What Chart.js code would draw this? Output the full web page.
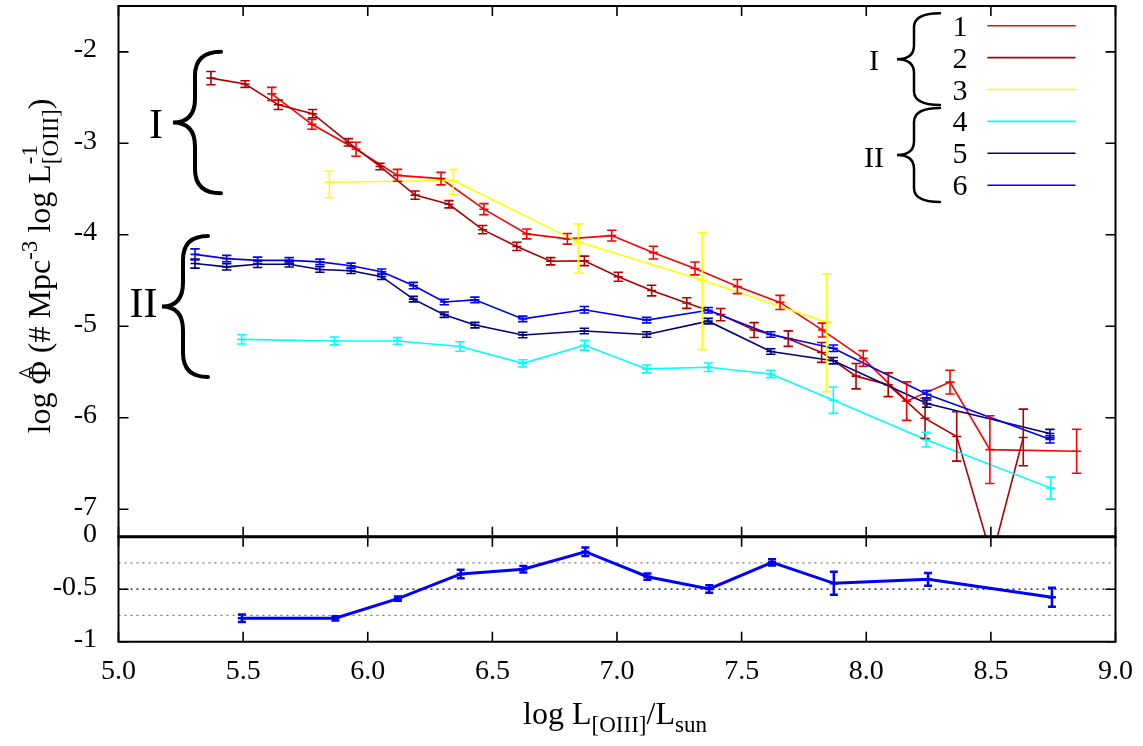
<!DOCTYPE html>
<html>
<head>
<meta charset="utf-8">
<script src="https://cdn.jsdelivr.net/npm/chart.js@4.4.0/dist/chart.umd.min.js"></script>
<style>
html,body{margin:0;padding:0;background:#fff;}
#wrap{position:relative;width:1143px;height:746px;}
#wrap canvas{position:absolute;left:0;top:0;}
</style>
</head>
<body>
<div id="wrap">
  <canvas id="ch-main" width="1143" height="746"></canvas>
  <canvas id="ch-ratio" width="1143" height="746"></canvas>
</div>
<script>
// ── data ─────────────────────────────────────────────────
// 1 (red)
const s1x=[5.615,5.776,5.953,6.119,6.294,6.466,6.638,6.801,6.979,7.146,7.313,7.483,7.654,7.824,7.988,8.162,8.336,8.496,8.844];
const s1y=[-2.460,-2.792,-3.065,-3.350,-3.386,-3.720,-3.990,-4.044,-4.009,-4.195,-4.368,-4.566,-4.739,-5.041,-5.351,-5.818,-5.610,-6.348,-6.366];
const s1e=[0.072,0.054,0.077,0.065,0.068,0.061,0.054,0.058,0.058,0.07,0.07,0.077,0.077,0.076,0.085,0.21,0.13,0.37,0.24];
// 2 (dark red)
const s2x=[5.371,5.508,5.641,5.779,5.922,6.049,6.190,6.326,6.461,6.598,6.734,6.869,7.005,7.139,7.280,7.416,7.550,7.687,7.821,7.959,8.088,8.236,8.363,8.504,8.630];
const s2y=[-2.287,-2.352,-2.579,-2.676,-2.989,-3.253,-3.566,-3.666,-3.944,-4.127,-4.289,-4.285,-4.458,-4.609,-4.746,-4.873,-5.041,-5.135,-5.286,-5.545,-5.639,-6.006,-6.204,-7.53,-6.215];
const s2e=[0.072,0.036,0.052,0.045,0.04,0.036,0.045,0.04,0.045,0.045,0.04,0.052,0.049,0.058,0.058,0.067,0.081,0.085,0.108,0.139,0.13,0.22,0.27,0,0.31];
// 3 (yellow) - asymmetric bars
const s3x=[5.846,6.343,6.845,7.342,7.841];
const s3y=[-3.425,-3.407,-4.080,-4.495,-4.955];
const s3up=[0.12,0.12,0.20,0.52,0.53];
const s3dn=[0.17,0.15,0.34,0.76,0.76];
// 4 (cyan)
const s4x=[5.494,5.866,6.119,6.370,6.622,6.869,7.119,7.366,7.617,7.868,8.240,8.740];
const s4y=[-5.143,-5.160,-5.160,-5.221,-5.405,-5.207,-5.466,-5.448,-5.521,-5.808,-6.240,-6.769];
const s4e=[0.05,0.043,0.036,0.052,0.04,0.054,0.043,0.047,0.04,0.144,0.08,0.12];
// 5 (navy) and 6 (blue) share abscissae
const s56x=[5.307,5.434,5.558,5.685,5.808,5.933,6.056,6.183,6.307,6.430,6.622,6.869,7.119,7.366,7.617,7.868,8.243,8.737];
const s5y=[-4.314,-4.350,-4.322,-4.322,-4.379,-4.393,-4.458,-4.703,-4.873,-4.987,-5.095,-5.052,-5.089,-4.944,-5.275,-5.376,-5.845,-6.172];
const s5e=[0.05,0.035,0.035,0.03,0.03,0.03,0.03,0.03,0.03,0.03,0.03,0.03,0.03,0.03,0.03,0.035,0.04,0.045];
const s6y=[-4.214,-4.260,-4.279,-4.279,-4.296,-4.339,-4.404,-4.555,-4.735,-4.711,-4.919,-4.819,-4.933,-4.825,-5.089,-5.240,-5.743,-6.236];
const s6e=[0.06,0.035,0.035,0.03,0.03,0.03,0.03,0.035,0.03,0.03,0.03,0.035,0.03,0.03,0.03,0.035,0.04,0.04];
// lower panel
const rx=[5.495,5.870,6.121,6.373,6.624,6.873,7.122,7.370,7.622,7.870,8.248,8.745];
const ry=[-0.777,-0.777,-0.590,-0.355,-0.310,-0.143,-0.381,-0.498,-0.244,-0.444,-0.406,-0.577];
const re=[0.035,0.02,0.02,0.04,0.03,0.04,0.03,0.035,0.03,0.11,0.06,0.09];

const xTicks=[5,5.5,6,6.5,7,7.5,8,8.5,9];
const mainTicks=[-2,-3,-4,-5,-6,-7];
const ratioTicks=[0,-0.5,-1];
const ratioGrid=[-0.25,-0.5,-0.75];
const keyNames=['1','2','3','4','5','6'];
const groupNames=['I','II'];
const colors=['#ff0000','#b00000','#ffff00','#00ffff','#000080','#0000ff'];

// ── helpers ──────────────────────────────────────────────
const FAM='"Liberation Serif","Times New Roman",serif';
const f=s=>s+'px '+FAM;

function series(xs,ys,up,dn,color){
  return {data:xs.map((x,i)=>({x,y:ys[i]})),errUp:up,errDn:dn||up,
    borderColor:color,backgroundColor:color,borderWidth:1.6,
    pointStyle:'line',pointRadius:4.5,pointHoverRadius:4.5,pointBorderWidth:1.6,fill:false};
}

// rich text: parts {t, hat} or {sup, sub}
function rich(ctx,parts,x,y,size){
  const ws=parts.map(p=>{
    if(p.t!==undefined){ctx.font=f(size);return ctx.measureText(p.t).width;}
    ctx.font=f(size*0.72);
    return Math.max(p.sup?ctx.measureText(p.sup).width:0,p.sub?ctx.measureText(p.sub).width:0);
  });
  let cx=x-ws.reduce((a,b)=>a+b,0)/2;
  ctx.textAlign='left';ctx.textBaseline='alphabetic';ctx.fillStyle='#000';
  parts.forEach((p,i)=>{
    if(p.t!==undefined){
      ctx.font=f(size);ctx.fillText(p.t,cx,y);
      if(p.hat){ctx.font=f(size*0.85);ctx.textAlign='center';ctx.fillText('^',cx+ws[i]/2,y-size*0.42);ctx.textAlign='left';}
    }else{
      ctx.font=f(size*0.72);
      if(p.sup)ctx.fillText(p.sup,cx,y-size*0.42);
      if(p.sub)ctx.fillText(p.sub,cx,y+size*0.24);
    }
    cx+=ws[i];
  });
}

// left curly brace "{"
function brace(ctx,xEnd,yTop,yBot,xSp,xTip,r,lw){
  const ym=(yTop+yBot)/2;
  ctx.beginPath();
  ctx.moveTo(xEnd,yTop);
  ctx.quadraticCurveTo(xSp,yTop,xSp,yTop+r);
  ctx.lineTo(xSp,ym-r);
  ctx.quadraticCurveTo(xSp,ym,xTip,ym);
  ctx.quadraticCurveTo(xSp,ym,xSp,ym+r);
  ctx.lineTo(xSp,yBot-r);
  ctx.quadraticCurveTo(xSp,yBot,xEnd,yBot);
  ctx.lineWidth=lw;ctx.strokeStyle='#000';ctx.lineCap='round';ctx.stroke();
}

const errorBars={id:'errorBars',afterDatasetsDraw(chart,args,o){
  const {ctx,chartArea:a,scales:{x,y}}=chart;
  ctx.save();
  ctx.beginPath();ctx.rect(a.left,a.top,a.right-a.left,a.bottom-a.top);ctx.clip();
  chart.data.datasets.slice().reverse().forEach(ds=>{
    ctx.strokeStyle=ds.borderColor;ctx.lineWidth=o.lw;
    ds.data.forEach((p,i)=>{
      const u=ds.errUp[i],d=ds.errDn[i];
      if(!u&&!d)return;
      const px=x.getPixelForValue(p.x),yt=y.getPixelForValue(p.y+u),yb=y.getPixelForValue(p.y-d);
      ctx.beginPath();
      ctx.moveTo(px,yt);ctx.lineTo(px,yb);
      ctx.moveTo(px-o.cap,yt);ctx.lineTo(px+o.cap,yt);
      ctx.moveTo(px-o.cap,yb);ctx.lineTo(px+o.cap,yb);
      ctx.stroke();
    });
  });
  ctx.restore();
}};

function drawFrame(chart,yVals,topLw,len){
  const {ctx,chartArea:a,scales:{x,y}}=chart;
  ctx.save();ctx.strokeStyle='#000';ctx.lineCap='butt';
  ctx.lineWidth=1.6;ctx.beginPath();
  xTicks.forEach(v=>{const px=x.getPixelForValue(v);
    ctx.moveTo(px,a.top);ctx.lineTo(px,a.top+len);
    ctx.moveTo(px,a.bottom);ctx.lineTo(px,a.bottom-len);});
  yVals.forEach(v=>{const py=y.getPixelForValue(v);
    ctx.moveTo(a.left,py);ctx.lineTo(a.left+len,py);
    ctx.moveTo(a.right,py);ctx.lineTo(a.right-len,py);});
  ctx.stroke();
  ctx.lineWidth=2;ctx.beginPath();
  ctx.moveTo(a.left,a.top);ctx.lineTo(a.left,a.bottom);ctx.lineTo(a.right,a.bottom);ctx.lineTo(a.right,a.top);
  ctx.stroke();
  ctx.lineWidth=topLw;ctx.beginPath();ctx.moveTo(a.left-1,a.top);ctx.lineTo(a.right+1,a.top);ctx.stroke();
  ctx.restore();
}

const mainDecor={id:'mainDecor',afterDraw(chart){
  const ctx=chart.ctx;
  drawFrame(chart,mainTicks,2,10);
  ctx.save();
  // group braces inside the plot
  brace(ctx,221,51.7,193.3,195,173,24,4);
  brace(ctx,208,236,377,183,162,24,4);
  ctx.fillStyle='#000';ctx.textAlign='center';ctx.textBaseline='alphabetic';
  ctx.font=f(42);
  ctx.fillText(groupNames[0],156,138);
  ctx.fillText(groupNames[1],143.5,317);
  // key
  brace(ctx,940,13.3,105,914,897,14,2.5);
  brace(ctx,940,108,202,914,897,14,2.5);
  ctx.font=f(30);ctx.textAlign='center';
  ctx.fillText(groupNames[0],874,70);
  ctx.fillText(groupNames[1],874,167);
  keyNames.forEach((k,i)=>{
    const ky=25.7+i*31.9;
    ctx.fillStyle='#000';ctx.font=f(30);ctx.textAlign='center';
    ctx.fillText(k,960,ky+10);
    ctx.strokeStyle=colors[i];ctx.lineWidth=1.6;
    ctx.beginPath();ctx.moveTo(988,ky);ctx.lineTo(1075,ky);ctx.stroke();
  });
  // y title
  ctx.translate(50,266);ctx.rotate(-Math.PI/2);
  rich(ctx,[{t:'log '},{t:'\u03A6',hat:true},{t:' (# Mpc'},{sup:'-3'},{t:' log L'},{sup:'-1',sub:'[OIII]'},{t:')'}],0,0,32);
  ctx.restore();
}};

const ratioDecor={id:'ratioDecor',
  beforeDatasetsDraw(chart){
    const {ctx,chartArea:a,scales:{y}}=chart;
    ctx.save();ctx.setLineDash([2,4]);ctx.lineWidth=1.2;
    ratioGrid.forEach(v=>{const py=y.getPixelForValue(v);
      ctx.strokeStyle=v===-0.5?'#000':'#777';
      ctx.beginPath();ctx.moveTo(a.left,py);ctx.lineTo(a.right,py);ctx.stroke();});
    ctx.restore();
  },
  afterDraw(chart){
    const ctx=chart.ctx;
    drawFrame(chart,ratioTicks,3,10);
    ctx.save();
    rich(ctx,[{t:'log L'},{sub:'[OIII]'},{t:'/L'},{sub:'sun'}],615,724,32);
    ctx.restore();
  }};

const yTickFont={family:FAM,size:28};

new Chart(document.getElementById('ch-main'),{
  type:'line',
  data:{datasets:[
    series(s56x,s6y,s6e,null,colors[5]),
    series(s56x,s5y,s5e,null,colors[4]),
    series(s4x,s4y,s4e,null,colors[3]),
    series(s3x,s3y,s3up,s3dn,colors[2]),
    series(s2x,s2y,s2e,null,colors[1]),
    series(s1x,s1y,s1e,null,colors[0])
  ]},
  options:{
    responsive:false,animation:false,devicePixelRatio:1,
    layout:{padding:{left:0,top:1,right:27.5,bottom:209.3}},
    plugins:{legend:{display:false},tooltip:{enabled:false},errorBars:{lw:1.6,cap:4.7}},
    scales:{
      x:{type:'linear',min:5,max:9,display:false},
      y:{type:'linear',min:-7.3,max:-1.5,
        ticks:{stepSize:1,includeBounds:false,padding:21.5,labelOffset:-2,color:'#000',font:yTickFont,callback:v=>String(v)},
        grid:{display:false,drawTicks:false},border:{display:false},
        afterFit(s){s.width=118.5;s.paddingTop=0;s.paddingBottom=0;}}
    }
  },
  plugins:[errorBars,mainDecor]
});

new Chart(document.getElementById('ch-ratio'),{
  type:'line',
  data:{datasets:[{
    data:rx.map((x,i)=>({x,y:ry[i]})),errUp:re,errDn:re,
    borderColor:'#0000ff',backgroundColor:'#0000ff',borderWidth:3,
    pointStyle:'line',pointRadius:4,pointHoverRadius:4,pointBorderWidth:2.5,fill:false
  }]},
  options:{
    responsive:false,animation:false,devicePixelRatio:1,
    layout:{padding:{left:0,top:536.7,right:27.5,bottom:44.3}},
    plugins:{legend:{display:false},tooltip:{enabled:false},errorBars:{lw:2.5,cap:4}},
    scales:{
      x:{type:'linear',min:5,max:9,
        ticks:{stepSize:0.5,padding:13,color:'#000',font:yTickFont,maxRotation:0,autoSkip:false,callback:v=>v.toFixed(1)},
        grid:{display:false,drawTicks:false},border:{display:false},
        afterFit(s){s.height=60;s.paddingLeft=0;s.paddingRight=0;}},
      y:{type:'linear',min:-1,max:0,
        ticks:{stepSize:0.5,includeBounds:false,padding:21.5,labelOffset:-2,color:'#000',font:yTickFont,callback:v=>String(v)},
        grid:{display:false,drawTicks:false},border:{display:false},
        afterFit(s){s.width=118.5;s.paddingTop=0;s.paddingBottom=0;}}
    }
  },
  plugins:[errorBars,ratioDecor]
});
</script>
</body>
</html>
